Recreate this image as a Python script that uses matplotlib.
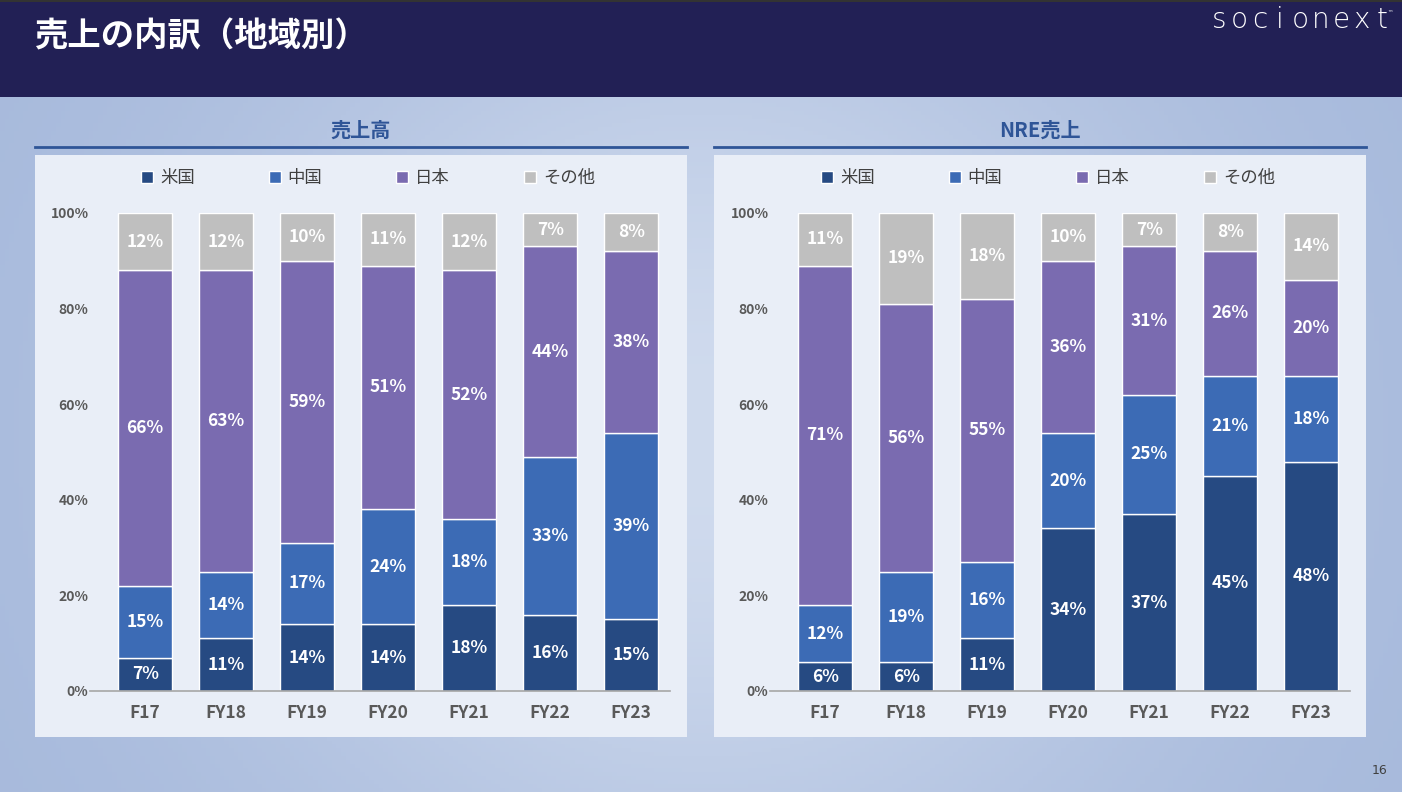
import numpy as np
import matplotlib
matplotlib.use("Agg")
import matplotlib.pyplot as plt
from matplotlib.patches import Rectangle
from matplotlib.lines import Line2D

plt.rcParams['font.family'] = ['Noto Sans CJK JP', 'DejaVu Sans']

categories = ["F17", "FY18", "FY19", "FY20", "FY21", "FY22", "FY23"]
series_names = ["米国", "中国", "日本", "その他"]

sales_us = [7, 11, 14, 14, 18, 16, 15]
sales_cn = [15, 14, 17, 24, 18, 33, 39]
sales_jp = [66, 63, 59, 51, 52, 44, 38]
sales_ot = [12, 12, 10, 11, 12, 7, 8]

nre_us = [6, 6, 11, 34, 37, 45, 48]
nre_cn = [12, 19, 16, 20, 25, 21, 18]
nre_jp = [71, 56, 55, 36, 31, 26, 20]
nre_ot = [11, 19, 18, 10, 7, 8, 14]

colors = ["#264a82", "#3c6bb5", "#7a6bb0", "#bfbfbf"]

W, H = 1402, 792
fig = plt.figure(figsize=(W / 100, H / 100), dpi=100)

def fx(x):
    return x / W

def fy(y):
    return 1 - y / H

# background gradient
bg = fig.add_axes([0, 0, 1, 1], zorder=-10)
bg.set_axis_off()
xx, yy = np.meshgrid(np.linspace(0, 1, 300), np.linspace(0, 1, 200))
d = np.exp(-(((xx - 0.5) / 0.35) ** 2 + ((yy - 0.45) / 0.6) ** 2))
c1 = np.array([0xa5, 0xb8, 0xdb]) / 255
c2 = np.array([0xd0, 0xdb, 0xee]) / 255
img = c1[None, None, :] * (1 - d[..., None]) + c2[None, None, :] * d[..., None]
bg.imshow(img, extent=[0, 1, 0, 1], aspect='auto', origin='lower')
bg.set_xlim(0, 1)
bg.set_ylim(0, 1)

# header band
fig.patches.append(Rectangle((0, fy(97)), 1, 1 - fy(97), transform=fig.transFigure,
                             facecolor="#222055", edgecolor="none", zorder=-5))
fig.patches.append(Rectangle((0, fy(2)), 1, fy(0) - fy(2), transform=fig.transFigure,
                             facecolor="#333333", edgecolor="none", zorder=-4))
fig.text(fx(34), fy(37), "売上の内訳（地域別）", color="white", fontsize=24,
         fontweight="bold", va="center", ha="left")

# logo, letter-spaced
logo = "socionext"
for i, ch in enumerate(logo):
    fig.text(fx(1219 + i * 20.4), fy(20), ch, color="white", fontsize=20,
             fontfamily="DejaVu Sans", fontweight="light", va="center", ha="center")
fig.text(fx(1390), fy(13), "™", color="white", fontsize=4,
         fontfamily="DejaVu Sans", va="center", ha="center")

fig.text(fx(1380), fy(770), "16", color="#404040", fontsize=9, va="center", ha="center",
         fontfamily="DejaVu Sans")

panels = [
    ("売上高", 35, [sales_us, sales_cn, sales_jp, sales_ot]),
    ("NRE売上", 714, [nre_us, nre_cn, nre_jp, nre_ot]),
]
ax_lefts = [90, 770]

for (title, px, data), axl in zip(panels, ax_lefts):
    pw = 652
    # panel box
    fig.patches.append(Rectangle((fx(px), fy(737)), fx(pw), fy(155) - fy(737),
                                 transform=fig.transFigure, facecolor="#e9eef7",
                                 edgecolor="none", zorder=-3))
    fig.text(fx(px + pw / 2), fy(130), title, color="#2f5597", fontsize=14.5,
             fontweight="bold", ha="center", va="center")
    fig.lines.append(Line2D([fx(px), fx(px + pw)], [fy(147), fy(147)],
                            transform=fig.transFigure, color="#2f5597", lw=2))

    ax = fig.add_axes([fx(axl), fy(691), fx(580), fy(213) - fy(691)])
    ax.patch.set_alpha(0)
    x = np.arange(len(categories))
    bottom = np.zeros(len(categories))
    handles = []
    for vals, col, name in zip(data, colors, series_names):
        v = np.array(vals, dtype=float)
        bars = ax.bar(x, v, 0.66, bottom=bottom, color=col, edgecolor="white",
                      linewidth=1.0, label=name)
        handles.append(bars)
        for xi, b, vi in zip(x, bottom, v):
            ax.text(xi, b + vi / 2, f"{int(vi)}%", color="white", fontsize=12.5,
                    fontweight="bold", ha="center", va="center")
        bottom += v
    ax.set_xlim(-0.68, 6.48)
    ax.set_ylim(0, 100)
    ax.set_yticks([0, 20, 40, 60, 80, 100])
    ax.set_yticklabels([f"{t}%" for t in [0, 20, 40, 60, 80, 100]])
    ax.set_xticks(x)
    ax.set_xticklabels(categories)
    for s in ["top", "right", "left"]:
        ax.spines[s].set_visible(False)
    ax.spines["bottom"].set_color("#a6a6a6")
    ax.spines["bottom"].set_linewidth(1.2)
    ax.tick_params(axis="y", length=0, pad=1, labelsize=10, labelcolor="#595959")
    ax.tick_params(axis="x", length=0, pad=9, labelsize=12.5, labelcolor="#595959")
    for lab in ax.get_xticklabels():
        lab.set_fontweight("bold")
    for lab in ax.get_yticklabels():
        lab.set_fontweight("bold")
    leg = ax.legend(handles=handles, labels=series_names, ncol=4, frameon=False,
                    loc="center", bbox_to_anchor=(0.5 - 12 / 580, 1 + 35 / 478),
                    handlelength=0.7, handleheight=0.7, handletextpad=0.4,
                    columnspacing=4.25, fontsize=12.5)
    for t in leg.get_texts():
        t.set_color("#404040")

fig.savefig("out.png", dpi=100)
